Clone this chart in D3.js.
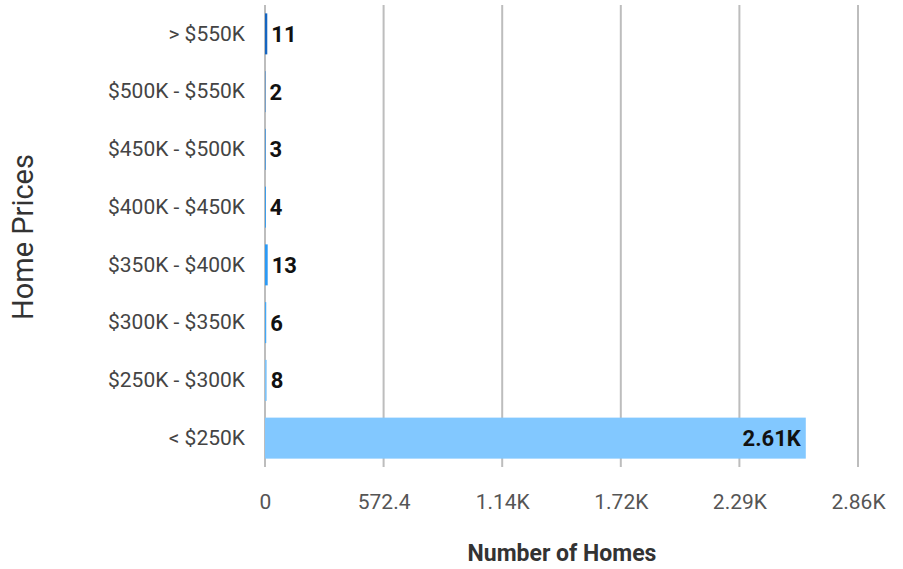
<!DOCTYPE html>
<html>
<head>
<meta charset="utf-8">
<script src="https://cdn.jsdelivr.net/npm/d3@7"></script>
<style>
  body { margin: 0; background: #fff; }
  text { font-family: Roboto, "Noto Sans", sans-serif; }
</style>
</head>
<body>
<div id="chart"></div>
<script>
// data
const categories = ["> $550K", "$500K - $550K", "$450K - $500K", "$400K - $450K",
                    "$350K - $400K", "$300K - $350K", "$250K - $300K", "< $250K"]
const homes = [11, 2, 3, 4, 13, 6, 8, 2610]
const valueLabels = ["11", "2", "3", "4", "13", "6", "8", "2.61K"]
const tickValues = [0, 572.4, 1144.8, 1717.2, 2289.6, 2862]
const tickLabels = ["0", "572.4", "1.14K", "1.72K", "2.29K", "2.86K"]
const barColors = ["#1565c0", "#1976d2", "#1e88e5", "#2196f3", "#2b9af5", "#42a8f7", "#7cc3f9", "#82c8ff"]

const W = 903, H = 569
const margin = {top: 5, right: 45, bottom: 102, left: 265}

const svg = d3.select("#chart").append("svg")
    .attr("width", W)
    .attr("height", H)

const g = svg.append("g")
    .attr("transform", `translate(${margin.left},${margin.top})`)

const x = d3.scaleLinear()
    .domain([0, 2862])
    .range([0, 593])

const y = d3.scaleBand()
    .domain(categories)
    .range([0, 462])
    .paddingInner(0.29)
    .paddingOuter(0.145)

// grid lines
g.selectAll("line.grid")
    .data(tickValues)
    .enter()
    .append("line")
    .attr("class", "grid")
    .attr("x1", d => x(d))
    .attr("x2", d => x(d))
    .attr("y1", 0)
    .attr("y2", 462)
    .attr("stroke", "#bdbdbd")
    .attr("stroke-width", 2)

// bars
g.selectAll("rect")
    .data(homes)
    .enter()
    .append("rect")
    .attr("x", x(0))
    .attr("y", (d, i) => y(categories[i]))
    .attr("width", d => x(d) - x(0))
    .attr("height", y.bandwidth())
    .attr("fill", (d, i) => barColors[i])

// value labels
g.selectAll("text.val")
    .data(homes)
    .enter()
    .append("text")
    .attr("class", "val")
    .attr("x", (d, i) => i == homes.length - 1 ? x(d) - 5 : x(d) + 4)
    .attr("y", (d, i) => y(categories[i]) + y.bandwidth() / 2)
    .attr("dy", "0.36em")
    .attr("text-anchor", (d, i) => i == homes.length - 1 ? "end" : "start")
    .attr("font-size", 22)
    .attr("font-weight", "bold")
    .attr("fill", "#111")
    .text((d, i) => valueLabels[i])

// x axis
const xAxis = d3.axisBottom(x)
    .tickValues(tickValues)
    .tickFormat((d, i) => tickLabels[i])
    .tickSize(0)
    .tickPadding(27)

const xg = g.append("g")
    .attr("transform", `translate(0,462)`)
    .call(xAxis)
xg.select(".domain").remove()
xg.selectAll("text")
    .attr("font-size", 21)
    .attr("fill", "#555")
    .style("font-family", "Roboto, sans-serif")

// y axis
const yAxis = d3.axisLeft(y)
    .tickSize(0)
    .tickPadding(20)

const yg = g.append("g").call(yAxis)
yg.select(".domain").remove()
yg.selectAll("text")
    .attr("font-size", 21)
    .attr("fill", "#444")
    .style("font-family", "Roboto, sans-serif")

// axis titles
svg.append("text")
    .attr("transform", "rotate(-90)")
    .attr("x", -237)
    .attr("y", 33)
    .attr("text-anchor", "middle")
    .attr("font-size", 29)
    .attr("fill", "#333")
    .text("Home Prices")

svg.append("text")
    .attr("x", 562)
    .attr("y", 561)
    .attr("text-anchor", "middle")
    .attr("font-size", 23)
    .attr("font-weight", "bold")
    .attr("fill", "#333")
    .text("Number of Homes")
</script>
</body>
</html>
